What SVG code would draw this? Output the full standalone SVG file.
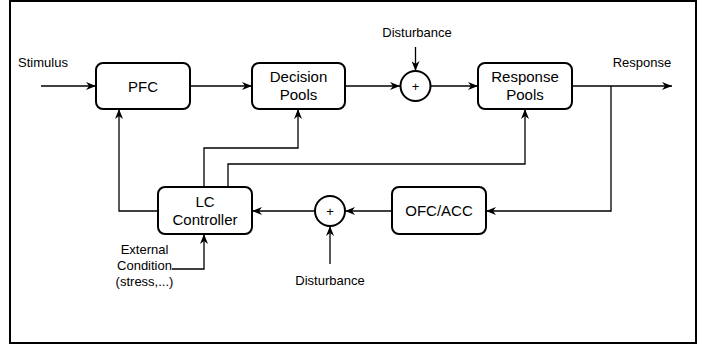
<svg xmlns="http://www.w3.org/2000/svg" width="715" height="352" viewBox="0 0 715 352">
  <defs>
    <marker id="arr" markerUnits="userSpaceOnUse" markerWidth="10" markerHeight="8" viewBox="0 0 10 8" refX="10" refY="4" orient="auto">
      <path d="M0,0 L10,4 L0,8 L3,4 Z" fill="#000"/>
    </marker>
    <style>
      .node { fill: #fff; stroke: #000; stroke-width: 2; }
      .sum { fill: #fff; stroke: #000; stroke-width: 2; }
      .conn { fill: none; stroke: #000; stroke-width: 1.3; }
      .arr { marker-end: url(#arr); }
      .nt { font-family: "Liberation Sans", Arial, sans-serif; font-size: 15px; fill: #000; text-anchor: middle; }
      .lt { font-family: "Liberation Sans", Arial, sans-serif; font-size: 13px; fill: #000; text-anchor: middle; }
    </style>
  </defs>
  <rect x="0" y="0" width="715" height="352" fill="#fff"/>
  <rect x="10" y="1" width="686" height="342" fill="none" stroke="#000" stroke-width="2"/>

  <g id="connectors">
    <path class="conn arr" d="M41,86 H96"/>
    <path class="conn arr" d="M190,86 H252"/>
    <path class="conn arr" d="M345,86 H400"/>
    <path class="conn arr" d="M415.5,47 V71"/>
    <path class="conn arr" d="M431,86 H478"/>
    <path class="conn arr" d="M572,86 H672"/>
    <path class="conn arr" d="M611,86 V211 H486"/>
    <path class="conn arr" d="M392,211 H345"/>
    <path class="conn arr" d="M330,264 V226"/>
    <path class="conn arr" d="M315,211 H252"/>
    <path class="conn arr" d="M158,211 H119 V109"/>
    <path class="conn arr" d="M204,187 V148 H298 V109"/>
    <path class="conn arr" d="M228,187 V164 H525 V109"/>
    <path class="conn arr" d="M172,269 H204 V234"/>
  </g>

  <g id="pfc">
    <rect class="node" x="96" y="63" width="94" height="46" rx="7"/>
    <text class="nt" x="143" y="91.5">PFC</text>
  </g>
  <g id="decision-pools">
    <rect class="node" x="252" y="63" width="93" height="46" rx="7"/>
    <text class="nt" x="298.5" y="81.5">Decision</text>
    <text class="nt" x="298.5" y="100">Pools</text>
  </g>
  <g id="sum-top">
    <circle class="sum" cx="415.5" cy="86" r="15"/>
    <text class="lt" x="415.5" y="90.5">+</text>
  </g>
  <g id="response-pools">
    <rect class="node" x="478" y="63" width="94" height="46" rx="7"/>
    <text class="nt" x="525" y="81.5">Response</text>
    <text class="nt" x="525" y="100">Pools</text>
  </g>
  <g id="ofc-acc">
    <rect class="node" x="392" y="187" width="94" height="47" rx="7"/>
    <text class="nt" x="439" y="216">OFC/ACC</text>
  </g>
  <g id="sum-bottom">
    <circle class="sum" cx="330" cy="211" r="15"/>
    <text class="lt" x="330" y="215.5">+</text>
  </g>
  <g id="lc-controller">
    <rect class="node" x="158" y="187" width="94" height="47" rx="7"/>
    <text class="nt" x="205" y="206.5">LC</text>
    <text class="nt" x="205" y="225">Controller</text>
  </g>

  <g id="labels">
    <text class="lt" x="43" y="67" >Stimulus</text>
    <text class="lt" x="417" y="37">Disturbance</text>
    <text class="lt" x="642" y="67">Response</text>
    <text class="lt" x="330" y="285">Disturbance</text>
    <text class="lt" x="144.5" y="254">External</text>
    <text class="lt" x="144.5" y="270">Condition</text>
    <text class="lt" x="144.5" y="286">(stress,...)</text>
  </g>
</svg>
